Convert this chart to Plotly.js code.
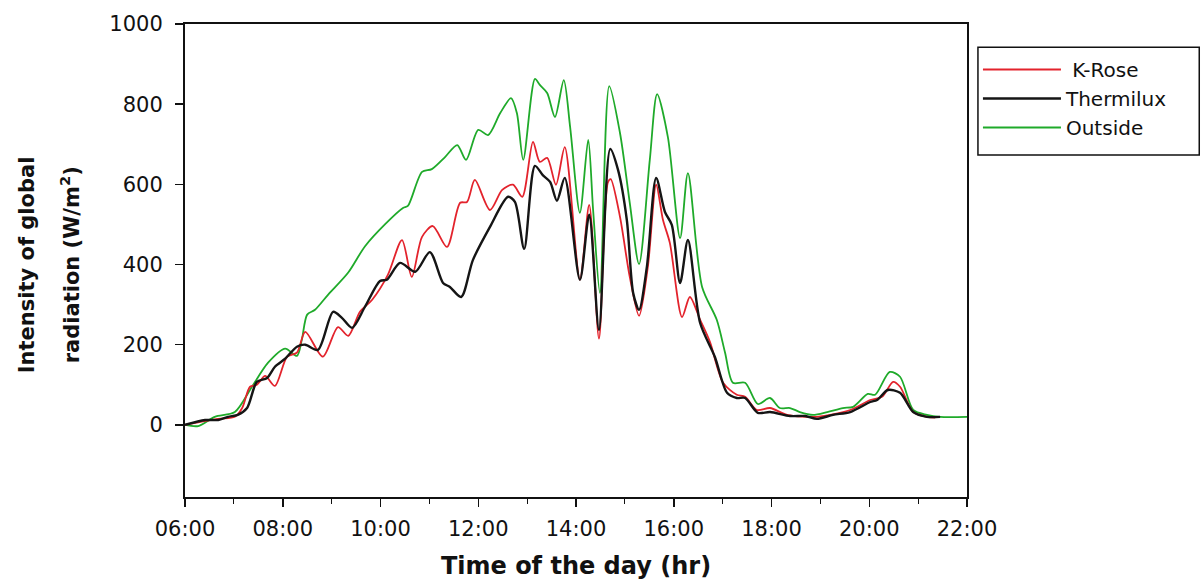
<!DOCTYPE html>
<html>
<head>
<meta charset="utf-8">
<script src="https://cdn.plot.ly/plotly-3.0.1.min.js"></script>
<style>
  html, body { margin: 0; padding: 0; background: #ffffff; }
  #chart { width: 1202px; height: 580px; }
</style>
</head>
<body>
<div id="chart"></div>
<script>
// Time of day in decimal hours, values in W/m2
const kroseTime = [6.00, 6.68, 7.02, 7.17, 7.33, 7.47, 7.64, 7.84, 8.09, 8.29, 8.46, 8.82, 9.13, 9.34, 9.58, 9.83, 10.15, 10.44, 10.64, 10.85, 11.07, 11.36, 11.63, 11.77, 11.93, 12.24, 12.49, 12.71, 12.90, 13.12, 13.26, 13.41, 13.59, 13.77, 14.08, 14.27, 14.47, 14.65, 14.71, 14.90, 15.10, 15.29, 15.47, 15.64, 15.78, 15.92, 16.17, 16.33, 16.54, 16.74, 17.01, 17.29, 17.46, 17.70, 17.97, 18.32, 18.93, 19.61, 20.02, 20.26, 20.49, 20.63, 20.90, 21.18, 21.35];
const kroseValue = [0, 15, 20, 42, 95, 100, 122, 97, 170, 180, 232, 170, 244, 222, 282, 312, 374, 461, 369, 469, 496, 444, 554, 556, 611, 536, 586, 599, 569, 706, 656, 666, 599, 693, 362, 549, 215, 604, 613, 519, 369, 272, 394, 599, 511, 454, 269, 319, 262, 207, 105, 75, 70, 37, 42, 25, 20, 37, 62, 70, 107, 95, 32, 20, 18];

const thermiluxTime = [6.00, 6.41, 6.68, 6.88, 7.08, 7.27, 7.47, 7.68, 7.84, 8.05, 8.29, 8.46, 8.72, 9.03, 9.21, 9.42, 9.68, 9.99, 10.13, 10.40, 10.71, 11.01, 11.28, 11.42, 11.65, 11.89, 12.24, 12.61, 12.75, 12.94, 13.16, 13.32, 13.47, 13.61, 13.77, 14.08, 14.27, 14.47, 14.70, 14.86, 15.04, 15.17, 15.29, 15.45, 15.64, 15.82, 15.96, 16.13, 16.29, 16.54, 16.84, 17.09, 17.29, 17.46, 17.72, 17.97, 18.38, 18.69, 18.93, 19.26, 19.61, 20.02, 20.16, 20.38, 20.63, 20.90, 21.18, 21.45];
const thermiluxValue = [0, 12, 12, 20, 25, 42, 107, 117, 145, 165, 195, 200, 187, 282, 267, 242, 294, 359, 362, 404, 382, 431, 354, 344, 319, 411, 494, 569, 556, 439, 646, 623, 606, 559, 616, 362, 524, 237, 688, 636, 511, 329, 287, 394, 616, 531, 499, 354, 461, 254, 170, 80, 67, 67, 30, 32, 22, 22, 15, 25, 32, 57, 62, 87, 80, 32, 20, 20];

const outsideTime = [6.00, 6.27, 6.61, 7.02, 7.37, 7.70, 8.05, 8.29, 8.39, 8.50, 8.66, 8.93, 9.34, 9.68, 10.09, 10.46, 10.56, 10.85, 11.05, 11.32, 11.57, 11.75, 12.00, 12.20, 12.45, 12.67, 12.79, 12.92, 13.16, 13.26, 13.41, 13.57, 13.75, 13.88, 14.08, 14.25, 14.35, 14.49, 14.68, 14.90, 15.10, 15.29, 15.51, 15.66, 15.88, 16.13, 16.29, 16.58, 16.88, 17.05, 17.21, 17.46, 17.72, 17.97, 18.17, 18.38, 18.58, 18.85, 19.14, 19.46, 19.67, 19.97, 20.12, 20.42, 20.63, 20.90, 21.18, 21.45, 22.00];
const outsideValue = [0, -3, 20, 32, 95, 155, 190, 172, 212, 275, 287, 325, 380, 445, 500, 541, 546, 631, 638, 668, 698, 661, 736, 723, 778, 815, 778, 661, 863, 848, 828, 768, 860, 743, 529, 711, 536, 329, 845, 728, 554, 401, 661, 825, 718, 466, 628, 344, 262, 180, 105, 105, 52, 67, 42, 42, 32, 25, 32, 42, 45, 77, 75, 132, 120, 37, 25, 20, 20];

const xTickVals = [6, 8, 10, 12, 14, 16, 18, 20, 22];
const xTickText = ["06:00", "08:00", "10:00", "12:00", "14:00", "16:00", "18:00", "20:00", "22:00"];
const yTickVals = [0, 200, 400, 600, 800, 1000];
const yTitleLines = ["<b>Intensity of global</b>", "<b>radiation (W/m<sup>2</sup>)</b>"];

const FONT = "DejaVu Sans, Arial, sans-serif";

const traces = [
  {
    x: outsideTime, y: outsideValue, name: "Outside", type: "scatter", mode: "lines",
    line: { color: "#1faa2a", width: 1.8, shape: "spline", smoothing: 0.8 },
    legendrank: 3
  },
  {
    x: kroseTime, y: kroseValue, name: "\u00a0K-Rose", type: "scatter", mode: "lines",
    line: { color: "#e3232c", width: 1.8, shape: "spline", smoothing: 0.8 },
    legendrank: 1
  },
  {
    x: thermiluxTime, y: thermiluxValue, name: "Thermilux", type: "scatter", mode: "lines",
    line: { color: "#151515", width: 2.4, shape: "spline", smoothing: 0.8 },
    legendrank: 2
  }
];

const layout = {
  width: 1202, height: 580,
  paper_bgcolor: "#ffffff", plot_bgcolor: "#ffffff",
  margin: { l: 185, r: 235, t: 24, b: 83 },
  font: { family: FONT, color: "#111111", size: 20 },
  showlegend: true,
  legend: {
    x: 1.014, y: 0.945, xanchor: "left", yanchor: "top",
    borderwidth: 0, bgcolor: "rgba(0,0,0,0)",
    font: { family: FONT, size: 20, color: "#111111" },
    tracegroupgap: 0, itemwidth: 78,
    valign: "middle"
  },
  shapes: [
    {
      type: "rect", xref: "paper", yref: "paper",
      x0: 1.014, x1: 1.297, y0: 0.723, y1: 0.951,
      line: { color: "#111111", width: 1.5 }, fillcolor: "#ffffff", layer: "below"
    }
  ],
  xaxis: {
    range: [6, 22], autorange: false,
    tickmode: "array", tickvals: xTickVals, ticktext: xTickText,
    ticks: "outside", ticklen: 8, tickwidth: 1.5, tickcolor: "#111111",
    minor: { tickmode: "linear", tick0: 6, dtick: 1, ticks: "outside", ticklen: 5, tickwidth: 1.2, tickcolor: "#111111", showgrid: false },
    showline: true, linecolor: "#111111", linewidth: 2, mirror: true,
    showgrid: false, zeroline: false,
    ticklabelstandoff: 4,
    tickfont: { family: FONT, size: 21, color: "#111111" },
    title: { text: "<b>Time of the day (hr)</b>", font: { family: FONT, size: 24, color: "#111111" }, standoff: 22 }
  },
  yaxis: {
    range: [-180, 1000], autorange: false,
    tickmode: "array", tickvals: yTickVals,
    ticks: "outside", ticklen: 8, tickwidth: 1.5, tickcolor: "#111111",
    showline: true, linecolor: "#111111", linewidth: 2, mirror: true,
    showgrid: false, zeroline: false,
    ticklabelstandoff: 8,
    tickfont: { family: FONT, size: 21, color: "#111111" }
  },
  annotations: [
    {
      xref: "paper", yref: "paper", x: -0.202, y: 0.49, xanchor: "center", yanchor: "middle",
      text: yTitleLines[0], textangle: -90, showarrow: false,
      font: { family: FONT, size: 21, color: "#111111" }
    },
    {
      xref: "paper", yref: "paper", x: -0.147, y: 0.49, xanchor: "center", yanchor: "middle",
      text: yTitleLines[1], textangle: -90, showarrow: false,
      font: { family: FONT, size: 21, color: "#111111" }
    }
  ]
};

Plotly.newPlot("chart", traces, layout, { displayModeBar: false, staticPlot: true });
</script>
</body>
</html>
